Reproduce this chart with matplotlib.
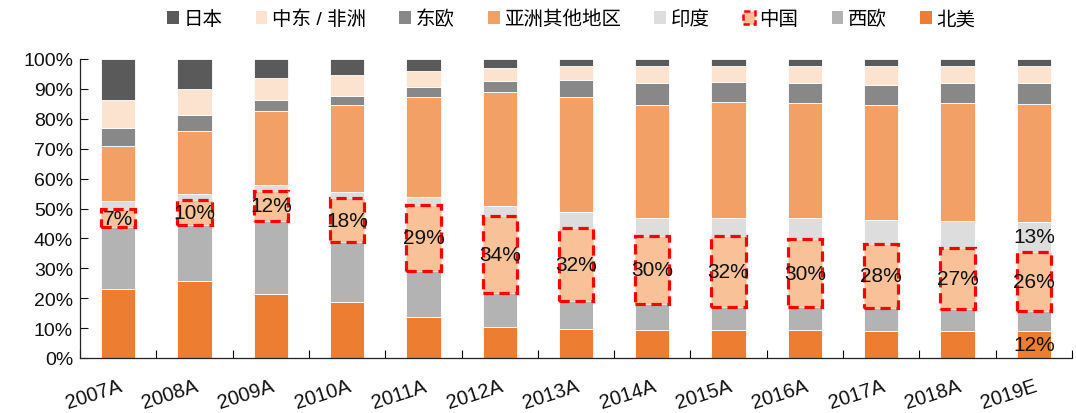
import matplotlib
matplotlib.use("Agg")
import matplotlib.pyplot as plt
from matplotlib.patches import Patch
from matplotlib.ticker import FuncFormatter, FixedLocator
import numpy as np

plt.rcParams['font.family'] = ['Liberation Sans', 'Noto Sans CJK SC']

years = ['2007A', '2008A', '2009A', '2010A', '2011A', '2012A', '2013A',
         '2014A', '2015A', '2016A', '2017A', '2018A', '2019E']

# Regional shares (stacked bottom to top, each year scaled to 100%)
north_america = [26.3, 30.3, 25.6, 23.0, 17.9, 13.8, 12.8, 12.3, 12.5, 12.3, 11.7, 11.9, 12]
west_europe   = [23.5, 22.2, 29.3, 24.3, 20.5, 14.7, 12.5, 11.4, 10.1, 9.9, 10.2, 9.9, 8.9]
china         = [7, 10, 12, 18, 29, 34, 32, 30, 32, 30, 28, 27, 26]
india         = [3.2, 2.2, 2.3, 2.7, 3.2, 4.7, 6.9, 7.8, 7.9, 9.2, 10.5, 12.0, 13]
other_asia    = [21.0, 25.0, 29.5, 35.6, 44.2, 50.0, 50.9, 49.8, 51.6, 50.3, 50.5, 52.5, 52.0]
east_europe   = [6.6, 6.2, 4.5, 3.7, 4.1, 5.2, 7.5, 9.5, 9.2, 8.9, 8.8, 9.1, 9.1]
mideast_africa = [10.8, 10.3, 8.7, 8.5, 7.0, 5.4, 6.2, 7.6, 7.1, 7.6, 8.3, 7.7, 7.7]
japan         = [15.7, 11.8, 7.7, 6.5, 5.4, 4.1, 2.9, 2.9, 3.0, 2.9, 2.9, 3.0, 3.0]

series_names = ['北美', '西欧', '中国', '印度', '亚洲其他地区', '东欧', '中东 / 非洲', '日本']
series_vals = [north_america, west_europe, china, india, other_asia,
               east_europe, mideast_africa, japan]
colors = ['#ED7D31', '#B3B3B3', '#F8C198', '#DDDDDD', '#F2A066',
          '#888888', '#FCE3D0', '#5A5A5A']

raw = np.array(series_vals, dtype=float)
share = raw / raw.sum(axis=0)

fig = plt.figure(figsize=(10.76, 4.14), dpi=100)
ax = fig.add_axes([80 / 1076, 55 / 414, 992 / 1076, 299 / 414])

x = np.arange(len(years))
width = 0.45
bottom = np.zeros(len(years))
bars = {}
for name, vals, col in zip(series_names, share, colors):
    if name == '中国':
        ax.bar(x, vals, width, bottom=bottom, facecolor=col,
               edgecolor='#FF0000', linewidth=2.3,
               linestyle=(0, (3.2, 1.8)), zorder=4)
    else:
        ax.bar(x, vals, width, bottom=bottom, color=col,
               edgecolor='white', linewidth=0.6, zorder=2)
    bars[name] = (bottom.copy(), vals)
    bottom = bottom + vals

# Value labels
label_kw = dict(ha='center', va='center', fontsize=15, color='#111111', zorder=6)
cb, cv = bars['中国']
for i in range(len(years)):
    ax.text(x[i], cb[i] + cv[i] / 2, f'{china[i]:.0f}%', **label_kw)
last = len(years) - 1
ib, iv = bars['印度']
ax.text(x[last], ib[last] + iv[last] / 2, f'{india[last]:.0f}%', **label_kw)
nb, nv = bars['北美']
ax.text(x[last], nb[last] + nv[last] / 2, f'{north_america[last]:.0f}%', **label_kw)

ax.set_xlim(-0.5, len(years) - 0.5)
ax.set_ylim(0, 1)
ax.yaxis.set_major_locator(FixedLocator(np.arange(0, 1.01, 0.1)))
ax.yaxis.set_major_formatter(FuncFormatter(lambda v, p: f'{v * 100:.0f}%'))
ax.tick_params(axis='y', direction='in', length=6, width=0.8, labelsize=14,
               pad=5, colors='#111111')

ax.set_xticks(x)
ax.set_xticklabels(years, rotation=18, ha='right', va='top',
                   rotation_mode='anchor', fontsize=14.5, color='#111111')
ax.tick_params(axis='x', which='major', length=0, pad=13)
ax.set_xticks(np.arange(-0.5, len(years), 1.0), minor=True)
ax.tick_params(axis='x', which='minor', direction='in', length=6, width=0.8)

for s in ('top', 'right'):
    ax.spines[s].set_visible(False)
for s in ('left', 'bottom'):
    ax.spines[s].set_color('#222222')
    ax.spines[s].set_linewidth(0.9)

# Legend in reverse stacking order
handles = []
for name, col in zip(series_names[::-1], colors[::-1]):
    if name == '中国':
        handles.append(Patch(facecolor=col, edgecolor='#FF0000', linewidth=1.8,
                             linestyle=(0, (2.5, 1.5)), label=name))
    else:
        handles.append(Patch(facecolor=col, edgecolor='none', label=name))
fig.legend(handles=handles, loc='center', bbox_to_anchor=(0.531, 0.952),
           ncol=8, frameon=False, fontsize=14, handlelength=0.6,
           handleheight=0.6, handletextpad=0.25, columnspacing=1.7,
           borderaxespad=0)

fig.savefig('out.png', dpi=100)
